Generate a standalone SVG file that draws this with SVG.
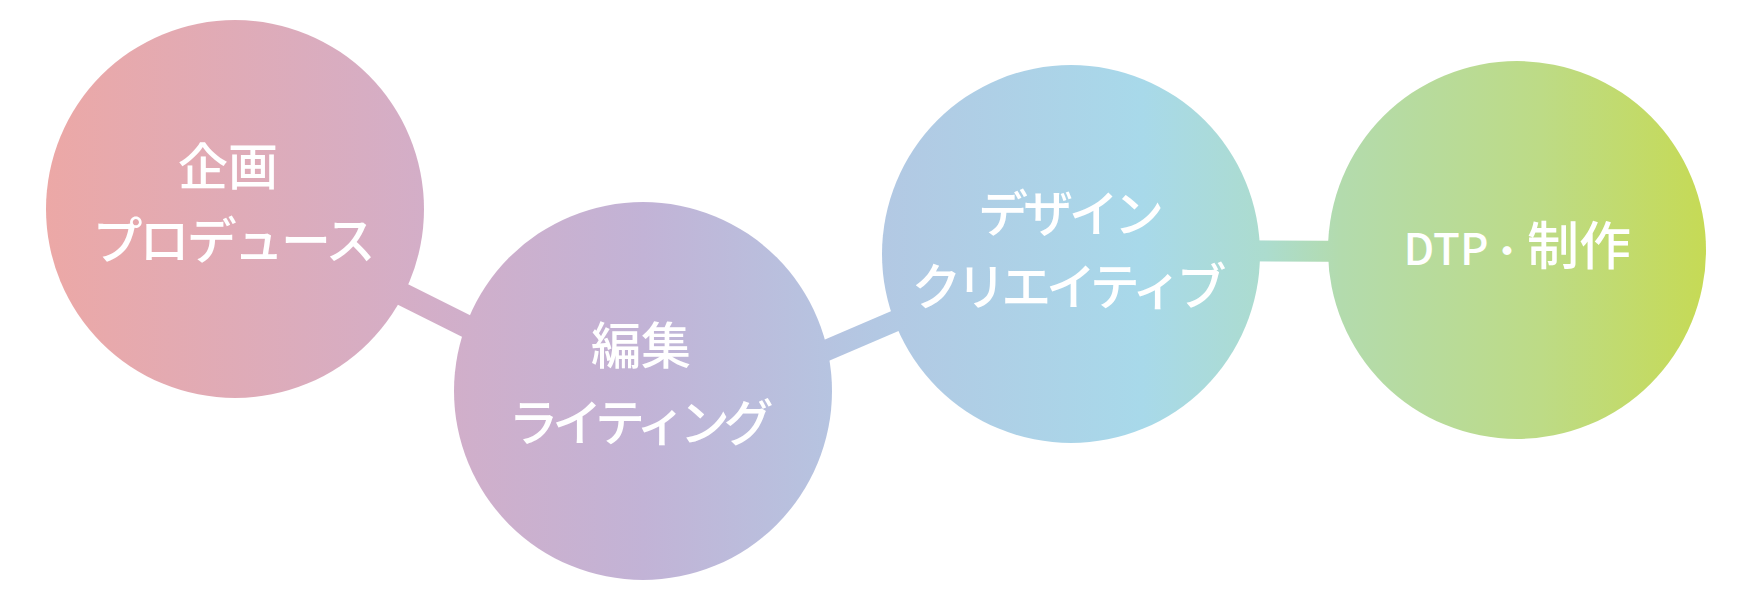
<svg xmlns="http://www.w3.org/2000/svg" width="1752" height="608" viewBox="0 0 1752 608">
  <defs>
    <linearGradient id="grad" gradientUnits="userSpaceOnUse" x1="45" y1="0" x2="1707" y2="0">
      <stop offset="0" stop-color="#eca8a6"/>
      <stop offset="0.23" stop-color="#d3aec8"/>
      <stop offset="0.36" stop-color="#c2b3d6"/>
      <stop offset="0.5" stop-color="#b3c8e3"/>
      <stop offset="0.66" stop-color="#a8d9ea"/>
      <stop offset="0.735" stop-color="#acdcce"/>
      <stop offset="0.78" stop-color="#b3dbad"/>
      <stop offset="0.9" stop-color="#bddb86"/>
      <stop offset="1" stop-color="#c6da55"/>
    </linearGradient>
  </defs>
  <style>
    .node { fill: url(#grad); }
    .conn { stroke: url(#grad); stroke-width: 21; fill: none; }
    .label { fill: #ffffff; font-family: "Noto Sans CJK JP", "Noto Sans", sans-serif; font-size: 50px; font-weight: 500; text-anchor: middle; }
  </style>
  <rect width="1752" height="608" fill="#ffffff"/>
  <g id="connectors">
    <line class="conn" x1="380" y1="283" x2="500" y2="343" style="stroke-width:23"/>
    <line class="conn" x1="790" y1="366" x2="930" y2="306"/>
    <line class="conn" x1="1200" y1="250.5" x2="1380" y2="251.5"/>
  </g>
  <g id="node-planning">
    <circle class="node" cx="235" cy="209" r="189"/>
    <text class="label" x="228" y="185">企画</text>
    <text class="label" x="234" y="259" textLength="283" lengthAdjust="spacing">プロデュース</text>
  </g>
  <g id="node-editing">
    <circle class="node" cx="643" cy="391" r="189"/>
    <text class="label" x="641" y="364">編集</text>
    <text class="label" x="641" y="441" textLength="265" lengthAdjust="spacing">ライティング</text>
  </g>
  <g id="node-design">
    <circle class="node" cx="1071" cy="254" r="189"/>
    <text class="label" x="1071" y="232" textLength="186" lengthAdjust="spacing">デザイン</text>
    <text class="label" x="1069" y="305" textLength="315" lengthAdjust="spacing">クリエイティブ</text>
  </g>
  <g id="node-dtp">
    <circle class="node" cx="1517" cy="250" r="189"/>
    <text class="label" y="265" style="text-anchor:start"><tspan x="1403.5" style="font-size:44px">DTP</tspan><tspan x="1488" style="font-size:38px">・</tspan><tspan x="1527" style="font-size:52px">制</tspan><tspan x="1579" style="font-size:52px">作</tspan></text>
  </g>
</svg>
